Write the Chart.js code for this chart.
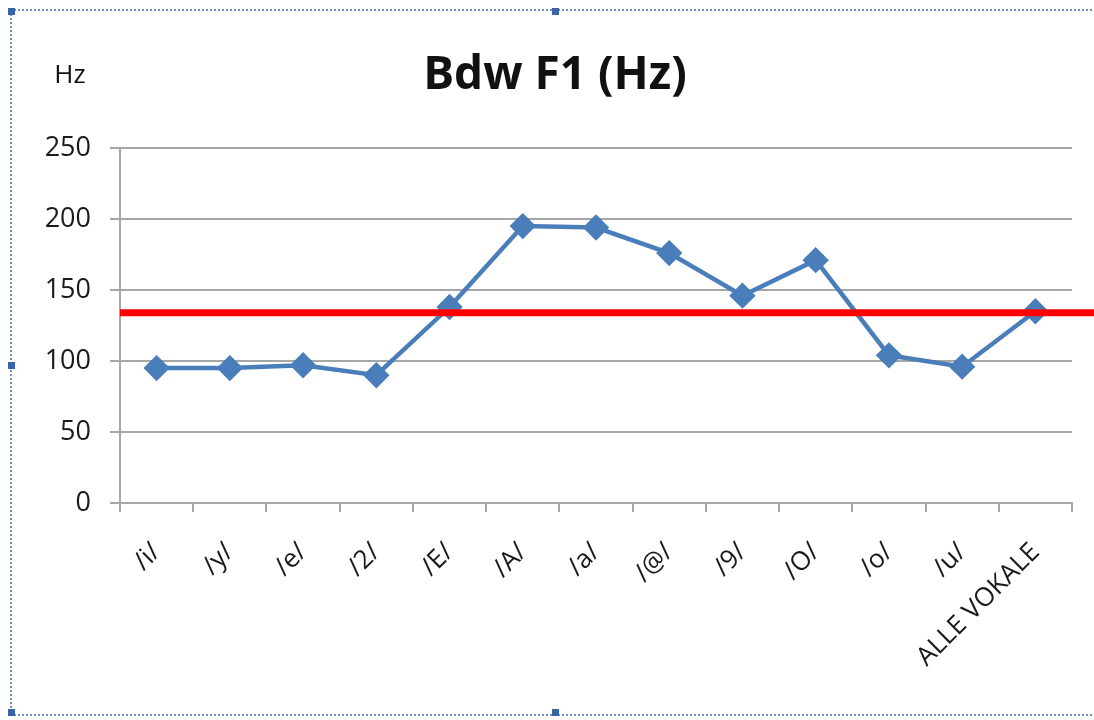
<!DOCTYPE html>
<html>
<head>
<meta charset="utf-8">
<script src="https://cdn.jsdelivr.net/npm/chart.js@4.4.1/dist/chart.umd.min.js"></script>
<style>
  html, body { margin: 0; padding: 0; background: #fff; }
  #wrap { position: relative; width: 1094px; height: 720px; overflow: hidden; }
  #frame {
    position: absolute; left: 10px; top: 9px; width: 1100px; height: 703px;
    border-top: 2px dotted #6f8fc4; border-left: 2px dotted #6f8fc4; border-bottom: 2px dotted #6f8fc4;
  }
  .handle { position: absolute; width: 7px; height: 7px; background: #3a64a8; }
  canvas { position: absolute; left: 0; top: 0; }
</style>
</head>
<body>
<div id="wrap">
  <div id="frame"></div>
  <div class="handle" style="left:8px;top:8px"></div>
  <div class="handle" style="left:552px;top:8px"></div>
  <div class="handle" style="left:8px;top:362px"></div>
  <div class="handle" style="left:552px;top:709px"></div>
  <div class="handle" style="left:8px;top:709px"></div>
  <canvas id="grafico" width="1094" height="720"></canvas>
</div>
<script>
// Datos del gráfico
const vokale = ['/i/', '/y/', '/e/', '/2/', '/E/', '/A/', '/a/', '/@/', '/9/', '/O/', '/o/', '/u/', 'ALLE VOKALE'];
const bdwF1 = [95, 95, 97, 90, 138, 195, 194, 176, 146, 171, 104, 96, 135];
const mittelwert = 134;
const yTicks = [0, 50, 100, 150, 200, 250];

const fuente = "'Open Sans', 'Liberation Sans', sans-serif";

// Títulos y línea roja del promedio
const extras = {
  id: 'extras',
  afterDatasetsDraw(chart) {
    const ctx = chart.ctx;
    const y = chart.scales.y.getPixelForValue(mittelwert);
    ctx.save();
    ctx.strokeStyle = '#ff0000';
    ctx.lineWidth = 7;
    ctx.beginPath();
    ctx.moveTo(chart.chartArea.left, y);
    ctx.lineTo(chart.width, y);
    ctx.stroke();
    ctx.restore();
  },
  afterDraw(chart) {
    const ctx = chart.ctx;
    ctx.save();
    ctx.fillStyle = '#111';
    ctx.textAlign = 'center';
    ctx.textBaseline = 'middle';
    ctx.font = 'bold 46px ' + fuente;
    ctx.fillText('Bdw F1 (Hz)', 555, 76);
    ctx.font = '26px ' + fuente;
    ctx.fillText('Hz', 70, 76);
    ctx.restore();
  }
};

new Chart(document.getElementById('grafico').getContext('2d'), {
  type: 'line',
  data: {
    labels: vokale,
    datasets: [{
      data: bdwF1,
      borderColor: '#4a7ebb',
      backgroundColor: '#4a7ebb',
      borderWidth: 4.5,
      pointStyle: 'rectRot',
      pointRadius: 10,
      pointHoverRadius: 10,
      tension: 0
    }]
  },
  options: {
    responsive: false,
    animation: false,
    layout: { padding: { left: 0, top: 148, right: 22, bottom: 0 } },
    plugins: {
      legend: { display: false },
      tooltip: { enabled: false }
    },
    scales: {
      x: {
        offset: true,
        grid: { offset: true, drawOnChartArea: false, drawTicks: true, tickLength: 9, color: '#a6a6a6', lineWidth: 2 },
        border: { color: '#a6a6a6', width: 2 },
        ticks: {
          minRotation: 45, maxRotation: 45, autoSkip: false,
          color: '#1a1a1a', font: { family: fuente, size: 26 }, padding: 25
        },
        afterFit(scale) { scale.height = 217; }
      },
      y: {
        min: 0, max: 250,
        afterBuildTicks(scale) { scale.ticks = yTicks.map(v => ({ value: v })); },
        grid: { color: '#a6a6a6', lineWidth: 2, tickLength: 10 },
        border: { color: '#a6a6a6', width: 2 },
        ticks: { color: '#1a1a1a', font: { family: fuente, size: 27 }, padding: 19 },
        afterFit(scale) { scale.width = 120; }
      }
    }
  },
  plugins: [extras]
});
</script>
</body>
</html>
